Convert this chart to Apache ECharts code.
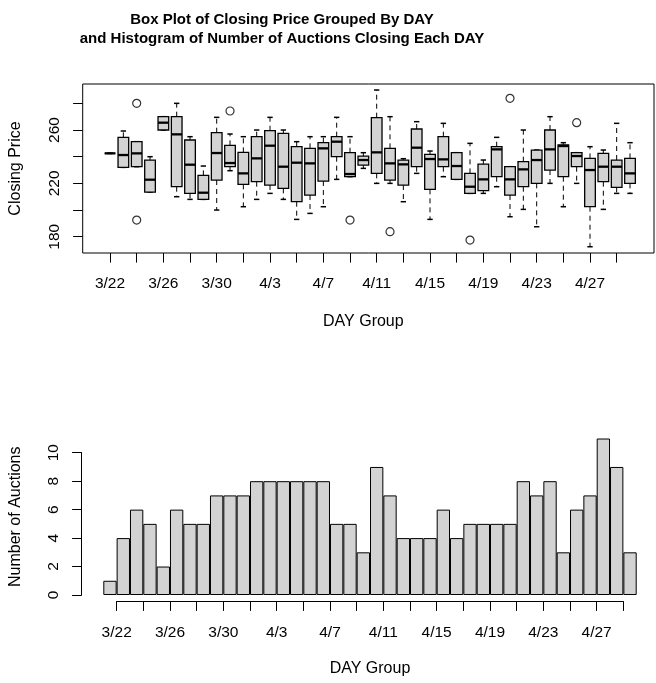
<!DOCTYPE html>
<html>
<head>
<meta charset="utf-8">
<title>Closing Price and Auctions by DAY</title>
<script src="https://cdn.jsdelivr.net/npm/echarts@6/dist/echarts.min.js"></script>
<style>
  html, body { margin: 0; padding: 0; background: #fff; }
  #main { width: 656px; height: 683px; }
</style>
</head>
<body>
<div id="main"></div>
<script>
// one entry per auction day, 3/22 .. 4/30
var days = ['3/22', '3/23', '3/24', '3/25', '3/26', '3/27', '3/28', '3/29', '3/30', '3/31',
  '4/1', '4/2', '4/3', '4/4', '4/5', '4/6', '4/7', '4/8', '4/9', '4/10',
  '4/11', '4/12', '4/13', '4/14', '4/15', '4/16', '4/17', '4/18', '4/19', '4/20',
  '4/21', '4/22', '4/23', '4/24', '4/25', '4/26', '4/27', '4/28', '4/29', '4/30']

// box plot stats of closing price
var priceLow = [242.5, 232, 232.5, 213.5, 260, 210, 208, 208, 200, 229.5,
  202.5, 208, 212.5, 208, 193, 197.5, 202.5, 223, 225, 231.25,
  220, 220, 206.25, 227.5, 193, 225, 223, 212.5, 212.5, 217.5,
  195, 200.5, 187.5, 220, 202.5, 220, 172.5, 200.5, 212.5, 212.5]
var priceQ1 = [242.5, 232, 232.5, 213.5, 260, 217.5, 212.5, 208, 222.5, 232.5,
  219.25, 221.25, 218.75, 216.25, 206.25, 211.25, 221.75, 240, 225, 233.75,
  227.5, 222.5, 218.75, 232.5, 215.5, 232.5, 223, 212.5, 214.5, 225,
  211.25, 217.5, 220, 230, 225, 232.5, 202.5, 221.25, 217, 220]
var priceMedian = [242.5, 241.25, 242.5, 222.75, 265.5, 256.75, 234, 213, 242.75, 235.25,
  227.5, 238.75, 248.25, 232.5, 235.5, 235, 246.25, 251.25, 227, 237.5,
  243.25, 235, 234.25, 246.75, 238.25, 238, 233, 217.5, 223, 245.5,
  223, 230.5, 237.5, 245.5, 248, 240.5, 230, 232.5, 232.5, 227.5]
var priceQ3 = [242.5, 254.5, 251.25, 237.5, 270, 270, 252.5, 226, 258, 248.5,
  243.25, 255, 259.5, 257.5, 247.5, 246.25, 250.5, 255, 243, 240.5,
  269.25, 246.25, 237.5, 260.75, 241.75, 255, 243, 227.5, 234.5, 247.5,
  232.5, 236.25, 245, 260, 248.75, 243, 238.75, 242.5, 237.5, 238.75]
var priceHigh = [242.5, 259.25, 251.25, 240, 270, 280, 255, 233, 269.5, 257,
  255, 260, 269.5, 260, 251.25, 255, 255, 269.5, 255, 243,
  290, 270, 238.5, 266.25, 244.25, 265, 243, 250, 237.5, 254.5,
  232.5, 260, 245, 270, 250.5, 243, 247.5, 245, 265, 250.5]
// [day index, price]
var priceOutliers = [[2, 280], [2, 192.5], [9, 274.25], [18, 192.5], [21, 183.75],
  [27, 177.5], [30, 283.75], [35, 265.5]]

// number of auctions closing each day
var auctionCounts = [1, 4, 6, 5, 2, 6, 5, 5, 7, 7,
  7, 8, 8, 8, 8, 8, 8, 5, 5, 3,
  9, 7, 4, 4, 4, 6, 4, 5, 5, 5,
  5, 8, 7, 8, 3, 6, 7, 11, 9, 3]

// tick labels
var dayLabels = ['3/22', '3/26', '3/30', '4/3', '4/7', '4/11', '4/15', '4/19', '4/23', '4/27']
var priceLabels = [180, 220, 260]
var countLabels = [0, 2, 4, 6, 8, 10]

var font = 'Liberation Sans, Arial, Helvetica, sans-serif'
var boxData = days.map(function (d, i) {
  return [i, priceLow[i], priceQ1[i], priceMedian[i], priceQ3[i], priceHigh[i]]
})

function renderBox(params, api) {
  var x = api.value(0)
  var lo = api.coord([x, api.value(1)])
  var q1 = api.coord([x, api.value(2)])
  var med = api.coord([x, api.value(3)])
  var q3 = api.coord([x, api.value(4)])
  var hi = api.coord([x, api.value(5)])
  var band = api.size([1, 0])[0]
  var half = band * 0.4
  var staple = band * 0.2
  var cx = med[0]
  var dashed = { stroke: '#000', lineWidth: 1, lineDash: [5, 4] }
  var solid = { stroke: '#000', lineWidth: 1.5 }
  return {
    type: 'group',
    children: [
      { type: 'line', shape: { x1: cx, y1: q3[1], x2: cx, y2: hi[1] }, style: dashed },
      { type: 'line', shape: { x1: cx, y1: q1[1], x2: cx, y2: lo[1] }, style: dashed },
      { type: 'line', shape: { x1: cx - staple, y1: hi[1], x2: cx + staple, y2: hi[1] }, style: solid },
      { type: 'line', shape: { x1: cx - staple, y1: lo[1], x2: cx + staple, y2: lo[1] }, style: solid },
      { type: 'rect', shape: { x: cx - half, y: q3[1], width: half * 2, height: q1[1] - q3[1] },
        style: { fill: '#d3d3d3', stroke: '#000', lineWidth: 1.3 } },
      { type: 'line', shape: { x1: cx - half, y1: med[1], x2: cx + half, y2: med[1] },
        style: { stroke: '#000', lineWidth: 2.3 } }
    ]
  }
}

var black = { color: '#000', width: 1 }
var tickStyle = { show: true, inside: false, length: 9.6, lineStyle: black }
var labelStyle = { color: '#000', fontSize: 15.5, fontFamily: font }
var nameStyle = { color: '#000', fontSize: 16, fontFamily: font }
var off = { show: false }

function dayTick(v) {
  var d = days[Math.round(v)]
  return dayLabels.indexOf(d) >= 0 ? d : ''
}

function hiddenAxis(i) {
  return { gridIndex: i, type: 'value', min: 0, max: 1, show: false }
}

function plainGrid(l, r, t, b) {
  return { left: l, right: r, top: t, bottom: b, containLabel: false, outerBoundsMode: 'none' }
}

var chart = echarts.init(document.getElementById('main'))
chart.setOption({
  animation: false,
  textStyle: { fontFamily: font },
  graphic: [{
    type: 'text',
    x: 282,
    y: 11,
    style: {
      text: 'Box Plot of Closing Price Grouped By DAY\nand Histogram of Number of Auctions Closing Each DAY',
      fill: '#000',
      font: 'bold 15px ' + font,
      lineHeight: 18.5,
      textAlign: 'center'
    }
  }],
  grid: [
    // 0 top: plot frame and boxes
    Object.assign(plainGrid(82.7, 2, 84, 430), { show: true, borderColor: '#000', borderWidth: 1,
      backgroundColor: 'transparent' }),
    // 1 top: x tick range
    plainGrid(110, 39.3, 84, 430),
    // 2 top: y tick range
    plainGrid(82.7, 2, 103.3, 446.3),
    // 3 bottom: bars
    plainGrid(103.3, 19.3, 438.5, 88),
    // 4 bottom: x axis
    plainGrid(116.7, 32.7, 452.7, 81.7),
    // 5 bottom: y axis
    plainGrid(81.7, 32.7, 452.7, 88)
  ],
  xAxis: [
    { gridIndex: 0, type: 'value', min: -2.05, max: 40.8, axisLine: off, axisTick: off,
      axisLabel: off, splitLine: off },
    { gridIndex: 1, type: 'value', min: 0, max: 38, interval: 2,
      axisLine: off, axisTick: tickStyle, splitLine: off,
      axisLabel: Object.assign({ margin: 23, formatter: dayTick, showMinLabel: true, showMaxLabel: true }, labelStyle),
      name: 'DAY Group', nameLocation: 'middle', nameGap: 61, nameTextStyle: nameStyle },
    hiddenAxis(2),
    { gridIndex: 3, type: 'category', data: days, axisLine: off, axisTick: off, axisLabel: off,
      splitLine: off, name: 'DAY Group', nameLocation: 'middle', nameGap: 66, nameTextStyle: nameStyle },
    { gridIndex: 4, type: 'value', min: 0, max: 38, interval: 2,
      axisLine: { show: true, lineStyle: black }, axisTick: tickStyle, splitLine: off,
      axisLabel: Object.assign({ margin: 23, formatter: dayTick, showMinLabel: true, showMaxLabel: true }, labelStyle) },
    hiddenAxis(5)
  ],
  yAxis: [
    { gridIndex: 0, type: 'value', min: 167.8, max: 294.5, axisLine: off, axisTick: off,
      axisLabel: off, splitLine: off,
      name: 'Closing Price', nameLocation: 'middle', nameGap: 59, nameTextStyle: nameStyle },
    hiddenAxis(1),
    { gridIndex: 2, type: 'value', min: 180, max: 280, interval: 20,
      axisLine: off, axisTick: tickStyle, splitLine: off,
      axisLabel: Object.assign({ margin: 20, rotate: 90, showMinLabel: true, showMaxLabel: true,
        formatter: function (v) { return priceLabels.indexOf(v) >= 0 ? String(v) : '' } }, labelStyle) },
    { gridIndex: 3, type: 'value', min: 0, max: 11, axisLine: off, axisTick: off,
      axisLabel: off, splitLine: off,
      name: 'Number of Auctions', nameLocation: 'middle', nameGap: 80, nameTextStyle: nameStyle },
    hiddenAxis(4),
    { gridIndex: 5, type: 'value', min: 0, max: 10, interval: 2,
      axisLine: { show: true, lineStyle: black }, axisTick: tickStyle, splitLine: off,
      axisLabel: Object.assign({ margin: 20, rotate: 90, showMinLabel: true, showMaxLabel: true,
        formatter: function (v) { return countLabels.indexOf(v) >= 0 ? String(v) : '' } }, labelStyle) }
  ],
  series: [
    {
      name: 'Closing Price',
      type: 'custom',
      xAxisIndex: 0,
      yAxisIndex: 0,
      data: boxData,
      encode: { x: 0, y: [1, 2, 3, 4, 5] },
      renderItem: renderBox
    },
    {
      name: 'Outliers',
      type: 'scatter',
      xAxisIndex: 0,
      yAxisIndex: 0,
      data: priceOutliers,
      symbol: 'circle',
      symbolSize: 8,
      itemStyle: { color: 'transparent', borderColor: '#000', borderWidth: 1.2 }
    },
    {
      name: 'Number of Auctions',
      type: 'bar',
      xAxisIndex: 3,
      yAxisIndex: 3,
      data: auctionCounts,
      barWidth: '100%',
      barCategoryGap: '0%',
      itemStyle: { color: '#d3d3d3', borderColor: '#000', borderWidth: 1 }
    }
  ]
})
</script>
</body>
</html>
